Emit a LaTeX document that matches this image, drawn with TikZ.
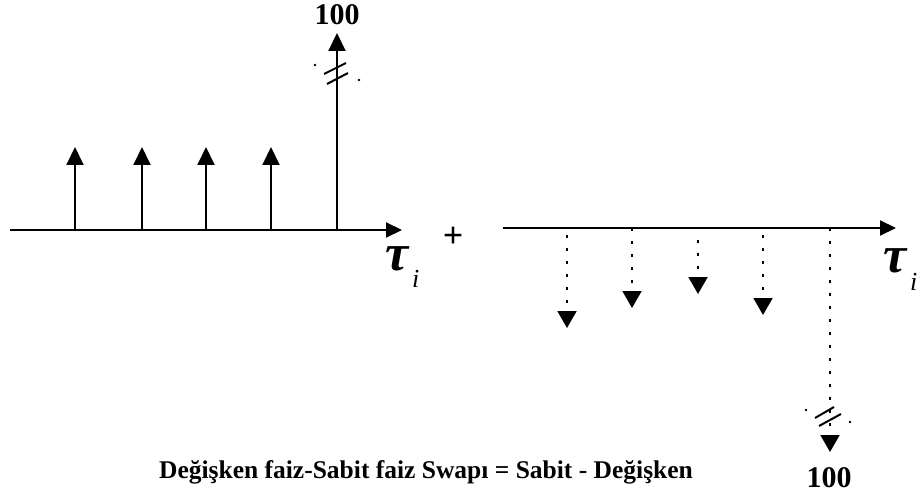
\documentclass[tikz,border=0pt]{standalone}
\usepackage{fontspec}
\setmainfont{Liberation Serif}
\usetikzlibrary{arrows.meta}
\tikzset{
  axis/.style ={draw=black, line width=2pt, -{Triangle[length=16pt,width=15pt]}},
  stem/.style ={draw=black, line width=2pt, -{Triangle[length=18pt,width=17pt]}},
  dstem/.style={draw=black, line width=2pt, dash pattern=on 3pt off 10pt, -{Triangle[length=17pt,width=19pt]}},
  brk/.style  ={draw=black, line width=2pt},
  lab/.style  ={font=\fontsize{30}{32}\selectfont\bfseries, inner sep=0pt, anchor=base},
  titlelab/.style ={font=\fontsize{25.5}{27}\selectfont\bfseries, inner sep=0pt, anchor=base},
  tau/.style  ={font=\fontsize{52}{54}\selectfont\bfseries\itshape, inner sep=0pt, anchor=base west},
  sub/.style  ={font=\fontsize{26}{28}\selectfont\itshape, inner sep=0pt, anchor=base west},
}
\begin{document}
\begin{tikzpicture}[x=1pt,y=-1pt]
  \useasboundingbox (0,0) rectangle (917,497);
  % left: fixed leg
  \coordinate (la) at (10,230);
  \coordinate (lb) at (402,230);
  \draw[axis] (la) -- (lb);
  \coordinate (p1) at (75,230);  \coordinate (q1) at (75,147);
  \coordinate (p2) at (142,230); \coordinate (q2) at (142,147);
  \coordinate (p3) at (206,230); \coordinate (q3) at (206,147);
  \coordinate (p4) at (271,230); \coordinate (q4) at (271,147);
  \coordinate (p5) at (337,230); \coordinate (q5) at (337,33);
  \draw[stem] (p1) -- (q1);
  \draw[stem] (p2) -- (q2);
  \draw[stem] (p3) -- (q3);
  \draw[stem] (p4) -- (q4);
  \draw[stem] (p5) -- (q5);
  \draw[brk] (324,74) -- (346,63);
  \draw[brk] (327,84) -- (348,73);
  \fill (315,65) circle (1.3pt);
  \fill (359,80) circle (1.3pt);
  \node[lab] (topval) at (337,25) {100};
  \node[tau] (taul) at (385,270) {τ};
  \node[sub] (subl) at (412,287) {i};
  \node[font=\fontsize{36}{38}\selectfont\bfseries, inner sep=0pt] (plus) at (453,237) {+};
  % right: floating leg
  \coordinate (ra) at (503,228);
  \coordinate (rb) at (896,228);
  \draw[axis] (ra) -- (rb);
  \coordinate (u1) at (567,235); \coordinate (v1) at (567,328);
  \coordinate (u2) at (632,228); \coordinate (v2) at (632,308);
  \coordinate (u3) at (698,240); \coordinate (v3) at (698,294);
  \coordinate (u4) at (763,235); \coordinate (v4) at (763,315);
  \coordinate (u5) at (830,228); \coordinate (v5) at (830,452);
  \draw[dstem] (u1) -- (v1);
  \draw[dstem] (u2) -- (v2);
  \draw[dstem] (u3) -- (v3);
  \draw[dstem] (u4) -- (v4);
  \draw[dstem] (u5) -- (v5);
  \draw[brk] (815,418) -- (834,407);
  \draw[brk] (819,426) -- (841,414);
  \fill (806,410) circle (1.3pt);
  \fill (850,422) circle (1.3pt);
  \node[lab] (botval) at (829,487) {100};
  \node[tau] (taur) at (883,272) {τ};
  \node[sub] (subr) at (910,290) {i};
  % caption
  \node[titlelab] (title) at (426,478) {Değişken faiz-Sabit faiz Swapı = Sabit - Değişken};
\end{tikzpicture}
\end{document}
